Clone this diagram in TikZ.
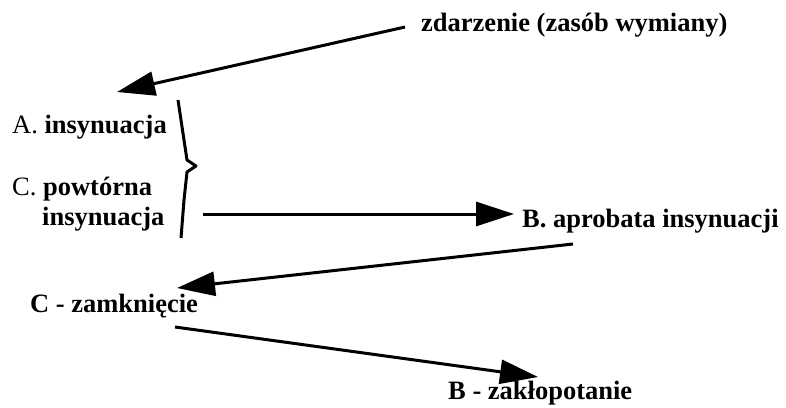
\documentclass[tikz,border=0pt]{standalone}
\usepackage{fontspec}
\setmainfont{Liberation Serif}
\usetikzlibrary{arrows.meta}

\begin{document}
\begin{tikzpicture}[x=1pt,y=-1pt,
    lbl/.style={anchor=base west, inner sep=0pt, font=\fontsize{26.5}{28}\selectfont\bfseries},
    arr/.style={-{Triangle[length=38pt,width=24pt]}, line width=3pt}]
    \useasboundingbox (0,0) rectangle (786,407);

    %% labels
    \node[lbl] (ev) at (421,31) {zdarzenie (zas\'ob wymiany)};
    \node[lbl] (a) at (12,133) {{\mdseries A.} insynuacja};
    \node[lbl] (c) at (12,195) {{\mdseries C.} powt\'orna};
    \node[lbl] (c2) at (42,225) {insynuacja};
    \node[lbl] (b) at (522,227) {B. aprobata insynuacji};
    \node[lbl] (cz) at (30,312) {C - zamkni\k{e}cie};
    \node[lbl] (bz) at (448,399) {B - zak\l{}opotanie};

    %% arrow ends
    \coordinate (ev-out) at (405,27);
    \coordinate (a-in) at (117,92);
    \coordinate (ac-out) at (203,214);
    \coordinate (b-in) at (514,214);
    \coordinate (b-out) at (573,244);
    \coordinate (cz-in) at (177,288);
    \coordinate (cz-out) at (175,327);
    \coordinate (bz-in) at (538,377);

    %% brace
    \draw[line width=3pt, line join=round]
        (178,100) -- (184,140) -- (187,160) -- (196,166)
        -- (187,172) -- (184,200) -- (181,238);

    \draw[arr] (ev-out) -- (a-in);
    \draw[arr] (ac-out) -- (b-in);
    \draw[arr] (b-out) -- (cz-in);
    \draw[arr] (cz-out) -- (bz-in);
\end{tikzpicture}
\end{document}
